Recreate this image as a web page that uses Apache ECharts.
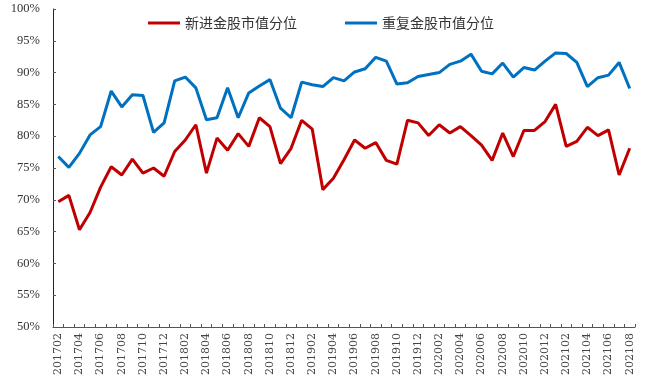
<!DOCTYPE html>
<html>
<head>
<meta charset="utf-8">
<script src="https://cdn.jsdelivr.net/npm/echarts@6/dist/echarts.min.js"></script>
<style>html,body{margin:0;padding:0;background:#fff}#c{width:645px;height:387px}</style>
</head>
<body>
<div id="c"></div>
<script>
const months = [
  '201702','201703','201704','201705','201706','201707','201708','201709','201710','201711','201712',
  '201801','201802','201803','201804','201805','201806','201807','201808','201809','201810','201811','201812',
  '201901','201902','201903','201904','201905','201906','201907','201908','201909','201910','201911','201912',
  '202001','202002','202003','202004','202005','202006','202007','202008','202009','202010','202011','202012',
  '202101','202102','202103','202104','202105','202106','202107','202108'
];
const seriesNames = ['新进金股市值分位', '重复金股市值分位'];
const newStocks = [
  69.7,70.7,65.3,68.0,72.0,75.2,73.9,76.4,74.2,75.0,73.7,
  77.6,79.4,81.8,74.2,79.7,77.8,80.4,78.4,82.9,81.5,75.7,78.1,
  82.5,81.1,71.6,73.4,76.3,79.4,78.1,79.0,76.2,75.6,82.5,82.1,
  80.1,81.8,80.5,81.5,80.1,78.6,76.2,80.5,76.8,80.9,80.9,82.3,
  85.0,78.4,79.2,81.4,80.1,81.0,73.9,78.1
];
const repeatStocks = [
  76.8,75.1,77.3,80.2,81.5,87.1,84.6,86.5,86.4,80.6,82.1,
  88.7,89.3,87.6,82.6,82.9,87.6,82.9,86.8,87.9,88.9,84.4,82.9,
  88.5,88.1,87.8,89.2,88.7,90.1,90.6,92.4,91.8,88.2,88.4,89.4,
  89.7,90.0,91.3,91.8,92.9,90.2,89.8,91.5,89.3,90.8,90.4,91.8,
  93.1,93.0,91.6,87.8,89.2,89.6,91.6,87.5
];
const yMin = 50, yMax = 100, yStep = 5;

const chart = echarts.init(document.getElementById('c'), null, {renderer: 'canvas'});
chart.setOption({
  animation: false,
  backgroundColor: '#ffffff',
  grid: {left: 53, right: 10, top: 9, bottom: 60},
  legend: {
    left: 143, top: 11,
    itemWidth: 32, itemHeight: 3, itemGap: 48,
    icon: 'rect',
    textStyle: {fontFamily: 'Noto Sans CJK SC', fontSize: 14, color: '#333'},
    data: seriesNames
  },
  xAxis: {
    type: 'category',
    data: months,
    boundaryGap: true,
    axisLine: {lineStyle: {color: '#555', width: 1}},
    axisTick: {show: true, inside: true, length: 3, interval: 0, lineStyle: {color: '#555'}},
    axisLabel: {interval: 1, rotate: 90, fontFamily: 'DejaVu Serif', fontSize: 11, color: '#444', margin: 6},
    splitLine: {show: false}
  },
  yAxis: {
    type: 'value',
    min: yMin, max: yMax, interval: yStep,
    axisLine: {show: true, lineStyle: {color: '#222', width: 1}},
    axisTick: {show: true, inside: true, length: 3, lineStyle: {color: '#555'}},
    axisLabel: {formatter: '{value}%', fontFamily: 'Liberation Serif', fontSize: 12.5, color: '#333', margin: 13},
    splitLine: {show: false}
  },
  series: [
    {name: seriesNames[0], type: 'line', data: newStocks, symbol: 'none',
     lineStyle: {color: '#C00000', width: 3}, itemStyle: {color: '#C00000'}},
    {name: seriesNames[1], type: 'line', data: repeatStocks, symbol: 'none',
     lineStyle: {color: '#0070C0', width: 3}, itemStyle: {color: '#0070C0'}}
  ]
});
</script>
</body>
</html>
